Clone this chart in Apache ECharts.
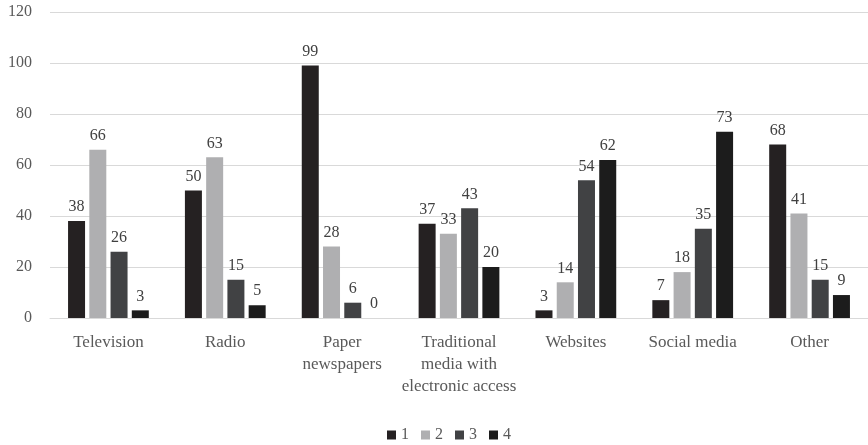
<!DOCTYPE html>
<html>
<head>
<meta charset="utf-8">
<script src="https://cdn.jsdelivr.net/npm/echarts@6/dist/echarts.min.js"></script>
<style>
  html, body { margin: 0; padding: 0; background: #fff; }
  #chart { width: 868px; height: 445px; }
</style>
</head>
<body>
<div id="chart"></div>
<script>
var categories = ['Television', 'Radio', 'Paper\nnewspapers', 'Traditional\nmedia with\nelectronic access', 'Websites', 'Social media', 'Other'];
var s1 = [38, 50, 99, 37, 3, 7, 68];
var s2 = [66, 63, 28, 33, 14, 18, 41];
var s3 = [26, 15, 6, 43, 54, 35, 15];
var s4 = [3, 5, 0, 20, 62, 73, 9];
var seriesNames = ['1', '2', '3', '4'];
var colors = ['#252122', '#afafb1', '#414244', '#1c1c1c'];

var font = 'Liberation Serif';
var chart = echarts.init(document.getElementById('chart'));

function makeSeries(name, data, i) {
  return {
    name: name,
    type: 'bar',
    data: data,
    barWidth: 17,
    barGap: '25%',
    itemStyle: { color: colors[i] },
    label: {
      show: true,
      position: 'top',
      distance: 6,
      color: '#404040',
      fontFamily: font,
      fontSize: 16
    }
  };
}

var option = {
  animation: false,
  textStyle: { fontFamily: font },
  grid: { left: 50, right: 0, top: 12, bottom: 127 },
  legend: {
    top: 422,
    left: 382,
    data: seriesNames,
    itemWidth: 9,
    itemHeight: 9,
    itemGap: 12,
    icon: 'rect',
    textStyle: { color: '#595959', fontFamily: font, fontSize: 16 }
  },
  xAxis: {
    type: 'category',
    data: categories,
    axisLine: { lineStyle: { color: '#d9d9d9' } },
    axisTick: { show: false },
    axisLabel: { color: '#595959', fontFamily: font, fontSize: 17, margin: 14, lineHeight: 22, interval: 0 }
  },
  yAxis: {
    type: 'value',
    min: 0,
    max: 120,
    interval: 20,
    axisLine: { show: false },
    axisTick: { show: false },
    splitLine: { lineStyle: { color: '#d9d9d9' } },
    axisLabel: { color: '#595959', fontFamily: font, fontSize: 16, margin: 18 }
  },
  series: [
    makeSeries(seriesNames[0], s1, 0),
    makeSeries(seriesNames[1], s2, 1),
    makeSeries(seriesNames[2], s3, 2),
    makeSeries(seriesNames[3], s4, 3)
  ]
};

chart.setOption(option);
</script>
</body>
</html>
